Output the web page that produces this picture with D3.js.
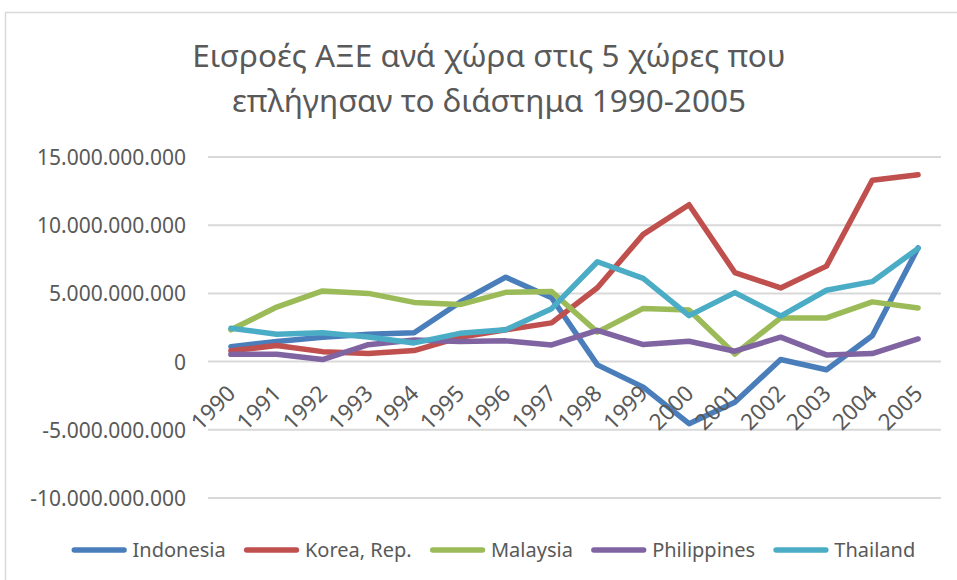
<!DOCTYPE html>
<html>
<head>
<meta charset="utf-8">
<script src="https://cdn.jsdelivr.net/npm/d3@7"></script>
<style>
    html, body { margin: 0; padding: 0; background: #fff; }
    svg { display: block; font-family: "Noto Sans", "DejaVu Sans", sans-serif; }
</style>
</head>
<body>
<div id="chart"></div>
<script>
// FDI inflows (current US$), in billions
const years = ['1990', '1991', '1992', '1993', '1994', '1995', '1996', '1997',
    '1998', '1999', '2000', '2001', '2002', '2003', '2004', '2005'];

const indonesia = [1.09, 1.48, 1.78, 2.0, 2.11, 4.35, 6.19, 4.68, -0.24, -1.87, -4.55, -2.98, 0.15, -0.6, 1.9, 8.34];
const korea = [0.79, 1.18, 0.73, 0.59, 0.81, 1.78, 2.33, 2.84, 5.41, 9.33, 11.5, 6.53, 5.4, 7.0, 13.3, 13.7];
const malaysia = [2.33, 4.0, 5.18, 5.0, 4.34, 4.18, 5.08, 5.14, 2.16, 3.9, 3.79, 0.55, 3.2, 3.2, 4.38, 3.93];
const philippines = [0.53, 0.54, 0.15, 1.24, 1.59, 1.48, 1.52, 1.22, 2.29, 1.25, 1.49, 0.76, 1.79, 0.49, 0.59, 1.66];
const thailand = [2.44, 2.01, 2.11, 1.8, 1.37, 2.07, 2.34, 3.88, 7.32, 6.1, 3.37, 5.06, 3.34, 5.23, 5.86, 8.3];

const seriesNames = ['Indonesia', 'Korea, Rep.', 'Malaysia', 'Philippines', 'Thailand'];
const seriesValues = [indonesia, korea, malaysia, philippines, thailand];
const seriesColors = ['#4a7ebb', '#c0504d', '#9bbb59', '#8064a2', '#4bacc6'];

const yTicks = [-10e9, -5e9, 0, 5e9, 10e9, 15e9];

const titleLines = ['Εισροές ΑΞΕ ανά χώρα στις 5 χώρες που', 'επλήγησαν το διάστημα 1990-2005'];

const width = 957;
const height = 580;
const textColor = '#595959';

const svg = d3.select('#chart')
    .append('svg')
    .attr('width', width)
    .attr('height', height);

// chart frame (only top and left edges show in the reference crop)
svg.append('rect')
    .attr('x', 5.5)
    .attr('y', 12.5)
    .attr('width', width + 20)
    .attr('height', height + 20)
    .attr('fill', 'none')
    .attr('stroke', '#d9d9d9')
    .attr('stroke-width', 1.5);

svg.append('text')
    .attr('text-anchor', 'middle')
    .attr('fill', textColor)
    .attr('font-size', 31.5)
    .selectAll('tspan')
    .data(titleLines)
    .join('tspan')
    .attr('x', 489)
    .attr('y', (d, i) => 67 + i * 45)
    .text((d) => d);

const x = d3.scaleBand().domain(years).range([208, 941]);
const y = d3.scaleLinear().domain([-10e9, 15e9]).range([498, 157]);

const fmt = (v) => (v === 0 ? '0' : d3.format(',')(v).replace(/,/g, '.').replace('−', '-'));

// gridlines
svg.append('g')
    .selectAll('line')
    .data(yTicks)
    .join('line')
    .attr('x1', 208)
    .attr('x2', 941)
    .attr('y1', (d) => y(d))
    .attr('y2', (d) => y(d))
    .attr('stroke', '#d9d9d9')
    .attr('stroke-width', 2);

// y axis labels
const yAxis = svg.append('g')
    .attr('transform', 'translate(186,0)')
    .call(d3.axisLeft(y).tickValues(yTicks).tickSize(0).tickPadding(0).tickFormat(fmt));
yAxis.select('.domain').remove();
yAxis.selectAll('text')
    .attr('fill', textColor)
    .attr('font-size', 21)
    .attr('font-family', '"Noto Sans", sans-serif')
    .attr('dy', '0.36em');

// lines
const line = d3.line()
    .x((d, i) => x(years[i]) + x.bandwidth() / 2)
    .y((d) => y(d * 1e9));

svg.append('g')
    .selectAll('path')
    .data(seriesValues)
    .join('path')
    .attr('d', (d) => line(d))
    .attr('fill', 'none')
    .attr('stroke', (d, i) => seriesColors[i])
    .attr('stroke-width', 5.5)
    .attr('stroke-linejoin', 'round')
    .attr('stroke-linecap', 'round');

// category labels, rotated like Excel's
svg.append('g')
    .selectAll('text')
    .data(years)
    .join('text')
    .attr('transform', (d) => `translate(${x(d) + x.bandwidth() / 2 + 6},${395}) rotate(-45)`)
    .attr('text-anchor', 'end')
    .attr('fill', textColor)
    .attr('font-size', 22.5)
    .text((d) => d);

// legend
const legend = svg.append('g');
const items = legend.selectAll('g')
    .data(seriesNames)
    .join('g');

items.append('line')
    .attr('x1', 2.75)
    .attr('x2', 52.5)
    .attr('y1', 0)
    .attr('y2', 0)
    .attr('stroke', (d, i) => seriesColors[i])
    .attr('stroke-width', 5.5)
    .attr('stroke-linecap', 'round');

items.append('text')
    .attr('x', 61)
    .attr('dy', '0.35em')
    .attr('fill', textColor)
    .attr('font-size', 20)
    .text((d) => d);

const gap = 21;
let offset = 0;
const positions = [];
items.each(function () {
    positions.push(offset);
    offset += this.getBBox().width + gap;
});
const total = offset - gap;
const startX = 492 - total / 2;
items.attr('transform', (d, i) => `translate(${startX + positions[i]},550)`);
</script>
</body>
</html>
